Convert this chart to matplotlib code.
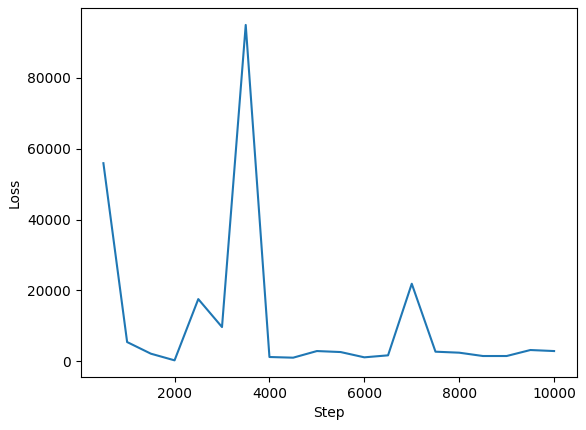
import matplotlib
matplotlib.use("Agg")
import matplotlib.pyplot as plt

steps = [500, 1000, 1500, 2000, 2500, 3000, 3500, 4000, 4500, 5000,
         5500, 6000, 6500, 7000, 7500, 8000, 8500, 9000, 9500, 10000]
loss = [55900, 5440, 2160, 280, 17560, 9670, 94900, 1220, 1030, 2900,
        2620, 1130, 1690, 21890, 2720, 2440, 1500, 1500, 3190, 2900]

fig, ax = plt.subplots(figsize=(5.86, 4.3), dpi=100)
fig.subplots_adjust(left=0.138, right=0.984, top=0.981, bottom=0.123)
ax.plot(steps, loss)
ax.set_xlabel("Step")
ax.set_ylabel("Loss")
fig.savefig("out.png")
